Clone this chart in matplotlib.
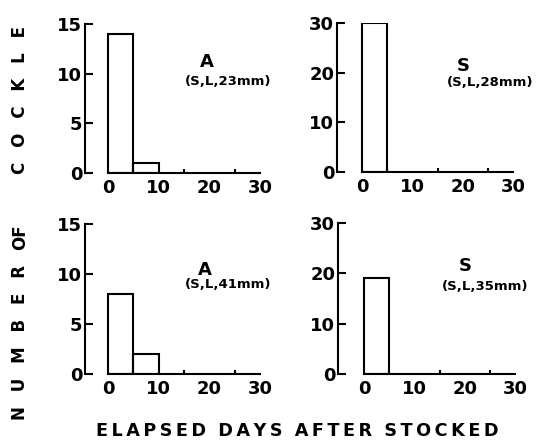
import matplotlib.pyplot as plt

plt.rcParams['font.family'] = 'DejaVu Sans'
plt.rcParams['font.weight'] = 'bold'

# bin left edges (days) and counts per panel
bin_edges = [0, 5]
counts_a23 = [14, 1]
counts_s28 = [30]
counts_a41 = [8, 2]
counts_s35 = [19]

x_ticks = [0, 10, 20, 30]
y_ticks_small = [0, 5, 10, 15]
y_ticks_large = [0, 10, 20, 30]

panel_titles = ['A', 'S', 'A', 'S']
panel_notes = ['(S,L,23mm)', '(S,L,28mm)', '(S,L,41mm)', '(S,L,35mm)']

W, H = 537, 442
fig = plt.figure(figsize=(W / 100, H / 100), dpi=100)


def px_axes(spine_x, x0, x30, y_top, y_zero):
    # axes placed from pixel positions of the original figure
    scale = (x30 - x0) / 30.0
    xmin = -(x0 - spine_x) / scale
    ax = fig.add_axes([spine_x / W, 1 - y_zero / H, (x30 - spine_x) / W, (y_zero - y_top) / H])
    ax.set_xlim(xmin, 30)
    return ax


def panel(ax, counts, ymax, yticks, title, note, tx, ty, nx, ny):
    ax.bar(bin_edges[:len(counts)], counts, width=5, align='edge',
           fill=False, edgecolor='black', linewidth=1.5, zorder=3)
    ax.set_ylim(0, ymax)
    for s in ['top', 'right']:
        ax.spines[s].set_visible(False)
    ax.spines['left'].set_bounds(0, ymax)
    ax.spines['bottom'].set_bounds(0, 30)
    for s in ['left', 'bottom']:
        ax.spines[s].set_linewidth(1.5)
    ax.set_yticks(yticks)
    ax.set_xticks([5, 10, 15, 20, 25, 30], minor=True)
    ax.set_xticks(x_ticks)
    ax.tick_params(axis='y', direction='in', length=6, width=1.5, pad=2, labelsize=13)
    ax.tick_params(axis='x', which='major', direction='in', length=0, pad=4, labelsize=13)
    ax.tick_params(axis='x', which='minor', direction='in', length=3, width=1.5)
    ax.text(tx, ty, title, ha='center', va='center', fontsize=13, fontweight='bold')
    ax.text(nx, ny, note, ha='center', va='center', fontsize=9.5, fontweight='bold')


ax1 = px_axes(85, 108, 260, 24, 173)
panel(ax1, counts_a23, 15, y_ticks_small, panel_titles[0], panel_notes[0], 19.5, 11.2, 23.7, 9.2)

ax2 = px_axes(337, 362, 513, 23, 172)
panel(ax2, counts_s28, 30, y_ticks_large, panel_titles[1], panel_notes[1], 20.1, 21.3, 25.4, 18.1)

ax3 = px_axes(85, 108, 260, 224, 374)
panel(ax3, counts_a41, 15, y_ticks_small, panel_titles[2], panel_notes[2], 19.1, 10.4, 23.7, 8.9)

ax4 = px_axes(338, 364, 515, 223, 374)
panel(ax4, counts_s35, 30, y_ticks_large, panel_titles[3], panel_notes[3], 20.1, 21.4, 24.1, 17.4)

# spaced-out side label, one word at a time
gap = '  \u2009'
for word, yc in [('NUMBER', 343), ('OF', 237), ('COCKLE', 100)]:
    fig.text(20 / W, 1 - yc / H, gap.join(word) if len(word) > 2 else word,
             rotation=90, ha='center', va='center', fontsize=12, fontweight='bold')

xlabel = '  '.join('\u2009'.join(w) for w in ['ELAPSED', 'DAYS', 'AFTER', 'STOCKED'])
fig.text(297 / W, 1 - 431 / H, xlabel, ha='center', va='center', fontsize=12.7, fontweight='bold')

fig.savefig('out.png', dpi=100)
